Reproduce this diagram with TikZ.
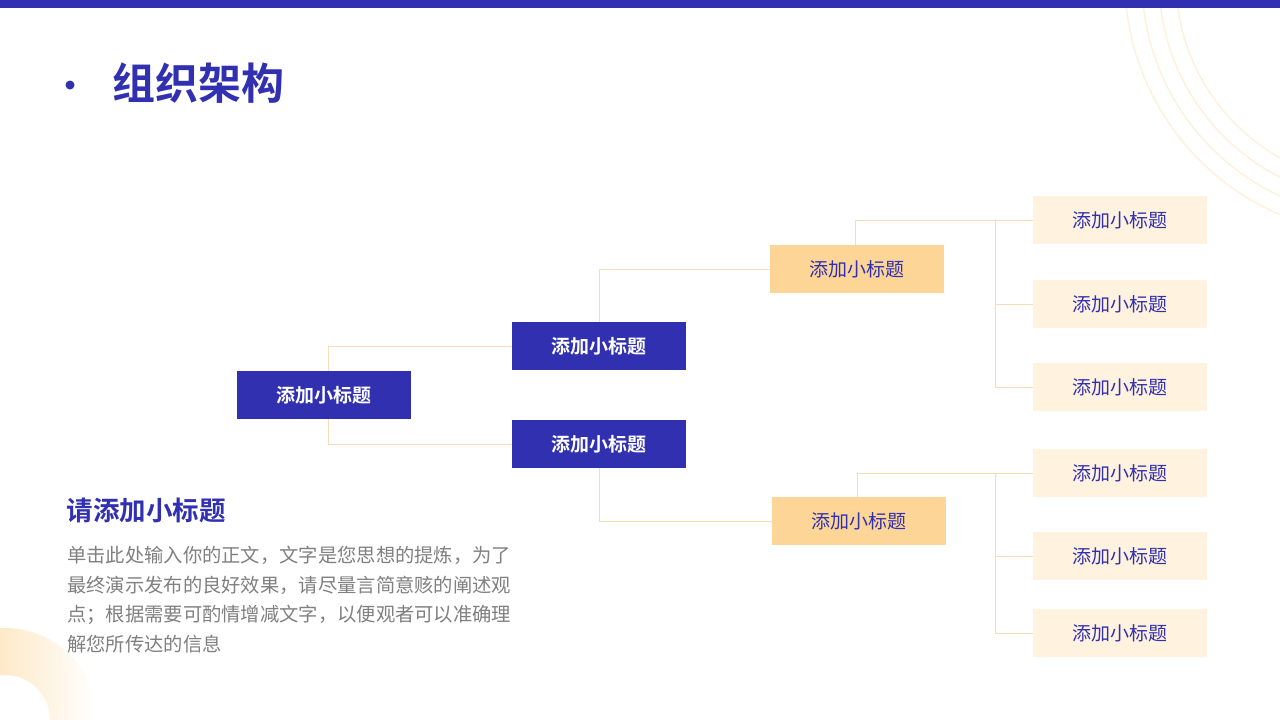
\documentclass[tikz,border=0pt]{standalone}
\usepackage{fontspec}
\setmainfont{Noto Sans CJK SC}
\newfontfamily\cjkb{Noto Sans CJK SC Bold}
\definecolor{mblue}{HTML}{3130B0}
\definecolor{morange}{HTML}{FDD697}
\definecolor{mleaf}{HTML}{FFF2DF}
\definecolor{mline}{HTML}{F5DDB5}
\definecolor{mgray}{HTML}{808080}
\begin{document}
\begin{tikzpicture}[x=1pt,y=-1pt,
 bx/.style={minimum width=174pt,minimum height=48pt,inner sep=0pt,font=\fontsize{19}{21}\selectfont},
 bb/.style={bx,fill=mblue,text=white,font=\fontsize{19}{21}\selectfont\cjkb},
 bo/.style={bx,fill=morange,text=mblue},
 bl/.style={bx,fill=mleaf,text=mblue},
 ln/.style={draw=mline,line width=0.9pt}]
\useasboundingbox (0,0) rectangle (1280,720);
\fill[white] (0,0) rectangle (1280,720);
\fill[mblue] (0,0) rectangle (1280,8);
\begin{scope}
\clip (0,8) rectangle (1280,720);
\foreach \r in {255,238,221,204} \draw[mleaf!60!morange,line width=1.4pt,opacity=0.6] (1380,-20) circle[radius=\r];
\end{scope}
\begin{scope}
\clip (0,0) rectangle (1280,720);
\path[left color=morange,right color=white,even odd rule] (5,720) circle[radius=92] (5,720) circle[radius=45];
\end{scope}
\fill[mblue] (70,85) circle[radius=4.5];
\node[anchor=west,text=mblue,font=\fontsize{43}{46}\selectfont\cjkb] (title) at (109,83) {组织架构};
\node[anchor=west,text=mblue,font=\fontsize{26.5}{28}\selectfont\cjkb] (sub) at (63,510) {请添加小标题};
\node[anchor=north west,text=mgray,align=left,inner sep=0pt,font=\fontsize{19.3}{29.5}\selectfont] (body) at (67,546) {单击此处输入你的正文，文字是您思想的提炼，为了\\最终演示发布的良好效果，请尽量言简意赅的阐述观\\点；根据需要可酌情增减文字，以便观者可以准确理\\解您所传达的信息};
\node[bb] (r) at (324,395) {添加小标题};
\node[bb] (a) at (599,346) {添加小标题};
\node[bb] (b) at (599,444) {添加小标题};
\node[bo] (a1) at (857,269) {添加小标题};
\node[bo] (b1) at (859,521) {添加小标题};
\node[bl] (l1) at (1120,220) {添加小标题};
\node[bl] (l2) at (1120,304) {添加小标题};
\node[bl] (l3) at (1120,387) {添加小标题};
\node[bl] (l4) at (1120,473) {添加小标题};
\node[bl] (l5) at (1120,556) {添加小标题};
\node[bl] (l6) at (1120,633) {添加小标题};
\draw[ln] (r.north) ++(4,0) |- (a.west);
\draw[ln] (r.south) ++(4,0) |- (b.west);
\draw[ln] (a.north) |- (a1.west);
\draw[ln] (b.south) |- (b1.west);
\draw[ln] (a1.north) ++(-2,0) |- (l1.west);
\draw[ln] (995,221) |- (l2.west);
\draw[ln] (995,221) |- (l3.west);
\draw[ln] (b1.north) ++(-2,0) |- (l4.west);
\draw[ln] (995,473) |- (l5.west);
\draw[ln] (995,473) |- (l6.west);
\end{tikzpicture}
\end{document}
